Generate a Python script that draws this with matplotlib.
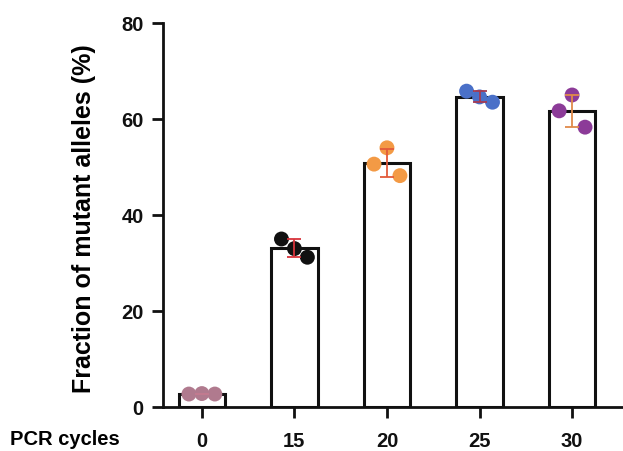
import matplotlib
matplotlib.use("Agg")
import matplotlib.pyplot as plt
import numpy as np

plt.rcParams['font.family'] = ['Liberation Sans', 'DejaVu Sans']

categories = ["0", "15", "20", "25", "30"]
replicates = [
    [2.7, 2.8, 2.7],
    [35.0, 33.0, 31.2],
    [50.6, 54.0, 48.2],
    [65.8, 64.6, 63.5],
    [61.7, 65.0, 58.3],
]
offsets = [-0.14, 0.0, 0.14]
point_colors = ["#b07a8e", "#111111", "#f39a45", "#4a70c8", "#8c3b98"]
err_colors = ["#c27a90", "#d8343c", "#e35a3a", "#a53a52", "#e08a4a"]

fig = plt.figure(figsize=(6.23, 4.52), dpi=100)
ax = fig.add_axes([163 / 623, 44 / 452, 1 - 163 / 623, 384 / 452])

x = np.arange(len(categories))
means = [np.mean(r) for r in replicates]
sds = [np.std(r, ddof=1) for r in replicates]

ax.bar(x, means, width=0.5, color="white", edgecolor="#111111", linewidth=2.2, zorder=2)
for i, vals in enumerate(replicates):
    ax.scatter([x[i] + o for o in offsets], vals, s=115, color=point_colors[i],
               zorder=3, edgecolors="none")
    ax.errorbar(x[i], means[i], yerr=sds[i], color=err_colors[i], capsize=5,
                capthick=1.3, elinewidth=1.3, zorder=4)

ax.set_xlim(-0.42, 4.55)
ax.set_ylim(0, 80)
ax.set_yticks([0, 20, 40, 60, 80])
ax.set_xticks(x)
ax.set_xticklabels(categories)
for s in ["top", "right"]:
    ax.spines[s].set_visible(False)
for s in ["left", "bottom"]:
    ax.spines[s].set_linewidth(2.0)
    ax.spines[s].set_color("#111111")
ax.tick_params(axis="both", width=2.0, length=8, colors="#111111", labelsize=14.5)
ax.tick_params(axis="x", pad=9)
ax.tick_params(axis="y", pad=6)
for lab in ax.get_xticklabels() + ax.get_yticklabels():
    lab.set_fontweight("bold")
fig.text(84 / 623, 0.517, "Fraction of mutant alleles (%)", fontsize=18,
         fontweight="bold", rotation=90, ha="center", va="center")
fig.text(10 / 623, 1 - 440 / 452, "PCR cycles", fontsize=14.5, fontweight="bold",
         ha="left", va="center")

fig.savefig("out.png", dpi=100)
